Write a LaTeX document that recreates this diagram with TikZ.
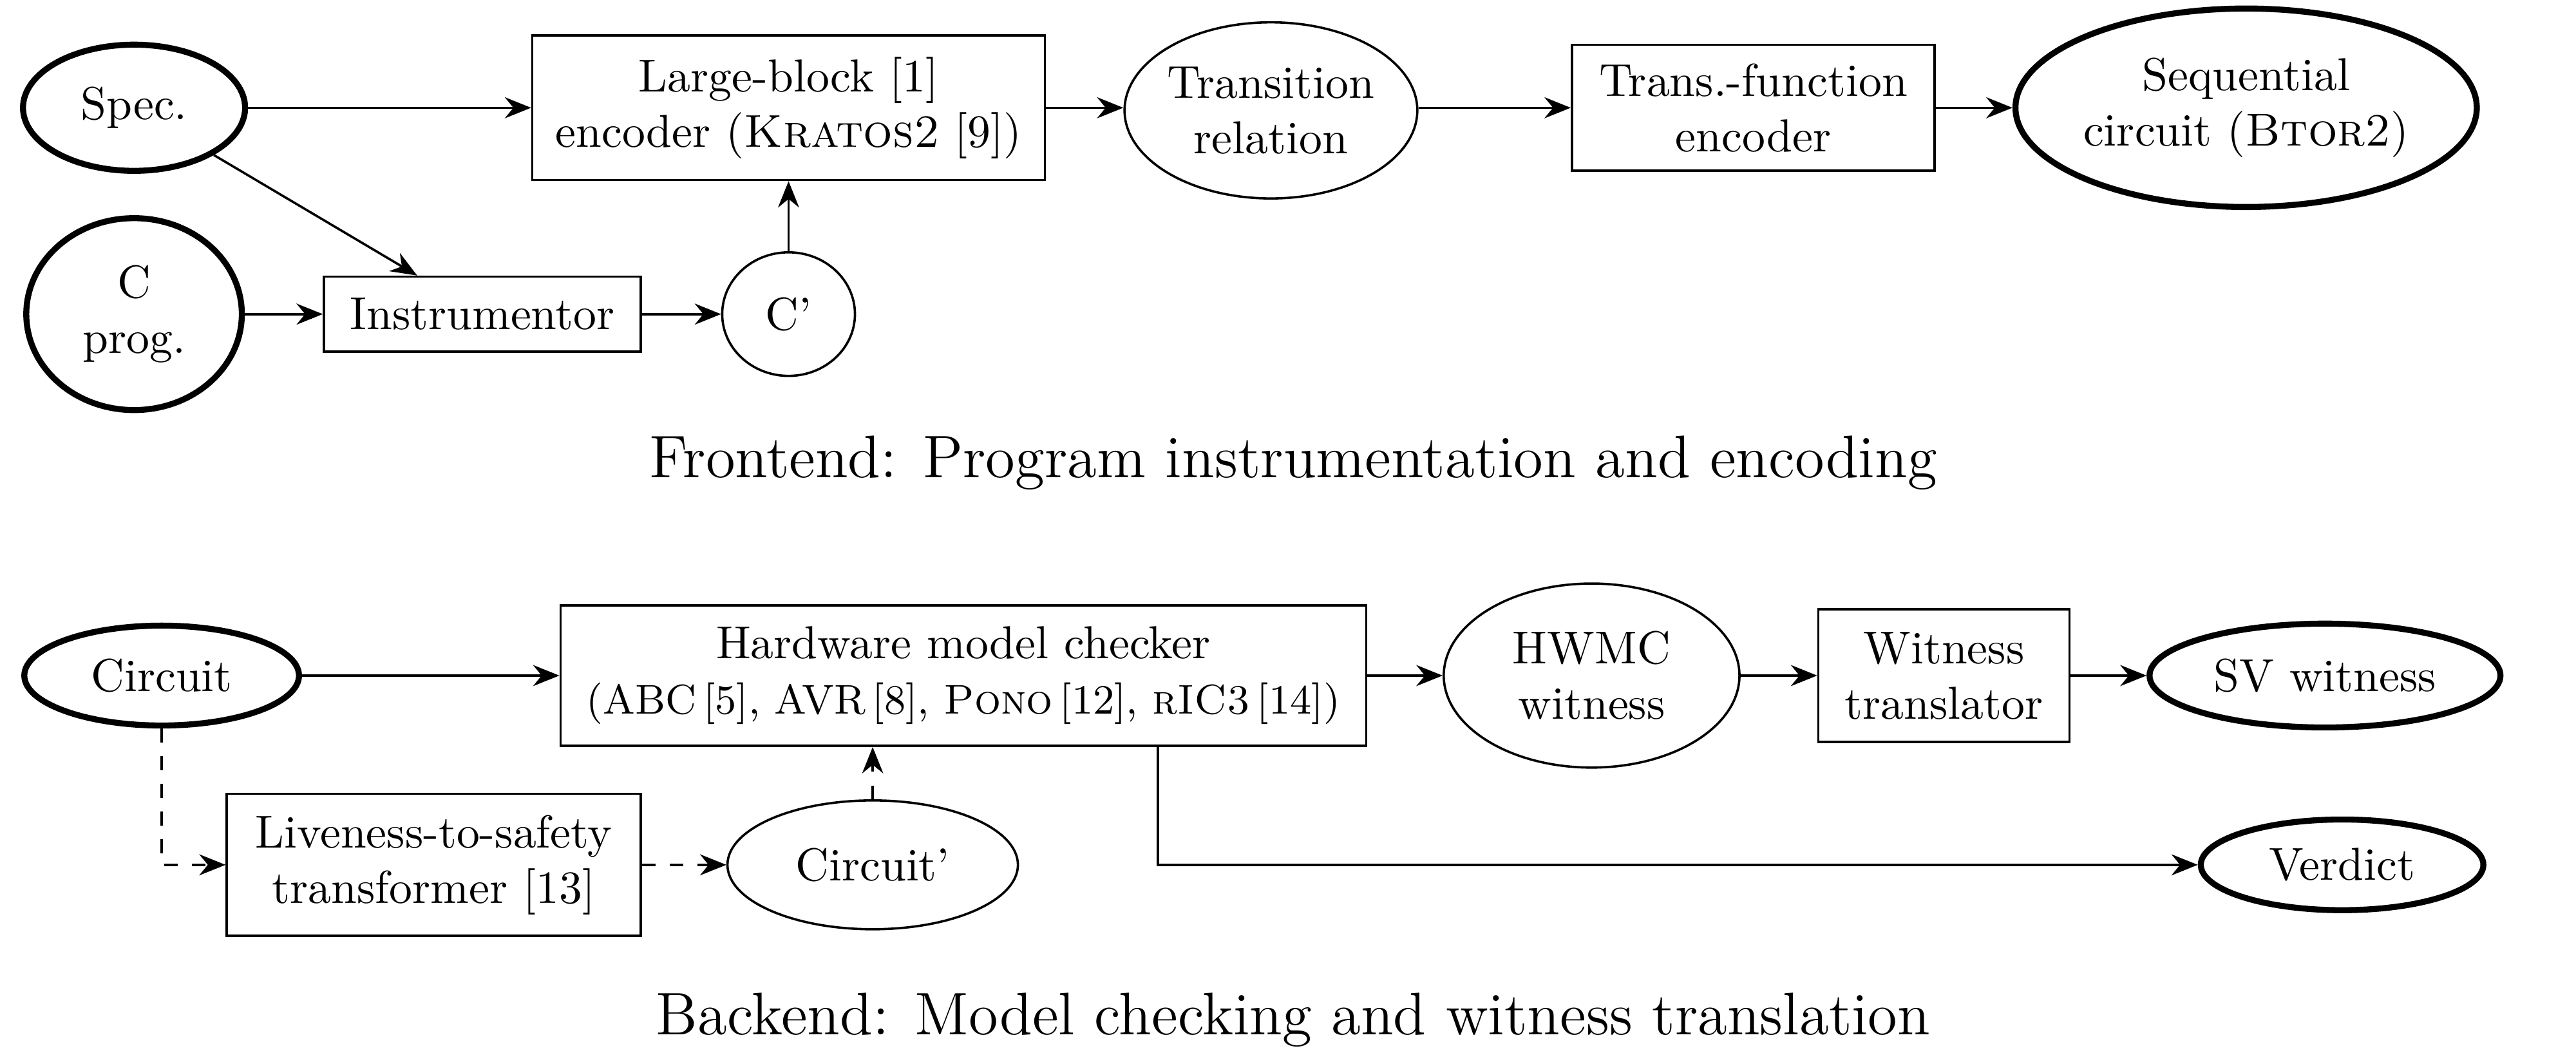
\documentclass[tikz,border=0pt]{standalone}
\usepackage{tikz}
\usetikzlibrary{arrows.meta,shapes.geometric}
\tikzset{
  box/.style={draw,line width=0.5pt,align=center,inner sep=2pt},
  blob/.style={ellipse,draw,line width=0.5pt,align=center,inner sep=0pt},
  term/.style={blob,line width=1.3pt},
  arr/.style={-{Stealth[length=2mm,width=1.6mm]},line width=0.5pt},
  dasharr/.style={arr,dashed},
  caption/.style={font=\fontsize{13pt}{15pt}\selectfont}
}
\begin{document}
\begin{tikzpicture}[x=1cm,y=1cm]
  \useasboundingbox (0,0) rectangle (19.6,-8.01);
  % frontend
  \node[term,minimum width=1.69cm,minimum height=0.96cm] (spec) at (1.02,-0.82) {Spec.};
  \node[term,minimum width=1.64cm,minimum height=1.46cm] (cprog) at (1.02,-2.39) {C\\prog.};
  \node[box,minimum width=3.90cm,minimum height=1.10cm] (large) at (6.00,-0.82)
    {Large-block [1]\\encoder (\textsc{Kratos2} [9])};
  \node[box,minimum width=2.41cm,minimum height=0.57cm] (instr) at (3.67,-2.39) {Instrumentor};
  \node[blob,minimum width=1.01cm,minimum height=0.94cm] (cp) at (6.00,-2.39) {C'};
  \node[blob,minimum width=2.21cm,minimum height=1.34cm] (trel) at (9.67,-0.84) {Transition\\relation};
  \node[box,minimum width=2.76cm,minimum height=0.96cm] (tfe) at (13.34,-0.82) {Trans.-function\\encoder};
  \node[term,minimum width=3.51cm,minimum height=1.51cm] (seq) at (17.09,-0.82)
    {Sequential\\circuit (\textsc{Btor2})};
  \node[caption] (front) at (9.84,-3.52) {Frontend: Program instrumentation and encoding};

  \draw[arr] (spec) -- (large);
  \draw[arr] (spec) -- (instr);
  \draw[arr] (cprog) -- (instr);
  \draw[arr] (instr) -- (cp);
  \draw[arr] (cp) -- (large);
  \draw[arr] (large) -- (large -| trel.west);
  \draw[arr] (trel.east |- tfe) -- (tfe);
  \draw[arr] (tfe) -- (seq);

  % backend
  \node[term,minimum width=2.09cm,minimum height=0.76cm] (circ) at (1.23,-5.14) {Circuit};
  \node[box,minimum width=6.13cm,minimum height=1.07cm] (hwmc) at (7.33,-5.14)
    {Hardware model checker\\{\small(ABC\,[5], AVR\,[8], \textsc{Pono}\,[12], \textsc{rIC3}\,[14])}};
  \node[box,minimum width=3.15cm,minimum height=1.08cm] (live) at (3.30,-6.58)
    {Liveness-to-safety\\transformer [13]};
  \node[blob,minimum width=2.21cm,minimum height=0.98cm] (circp) at (6.64,-6.58) {Circuit'};
  \node[blob,minimum width=2.25cm,minimum height=1.40cm] (hwit) at (12.11,-5.14) {HWMC\\witness};
  \node[box,minimum width=1.91cm,minimum height=1.01cm] (wtr) at (14.79,-5.14) {Witness\\translator};
  \node[term,minimum width=2.67cm,minimum height=0.79cm] (sv) at (17.69,-5.14) {SV witness};
  \node[term,minimum width=2.15cm,minimum height=0.69cm] (verdict) at (17.82,-6.58) {Verdict};
  \node[caption] (back) at (9.84,-7.76) {Backend: Model checking and witness translation};

  \draw[arr] (circ) -- (hwmc);
  \draw[arr] (hwmc) -- (hwit);
  \draw[arr] (hwit) -- (wtr);
  \draw[arr] (wtr) -- (sv);
  \draw[dasharr] (circ) |- (live);
  \draw[dasharr] (live) -- (circp);
  \draw[dasharr] (circp) -- (circp |- hwmc.south);
  \draw[arr] ([xshift=1.48cm]hwmc.south) |- (verdict);
\end{tikzpicture}
\end{document}
